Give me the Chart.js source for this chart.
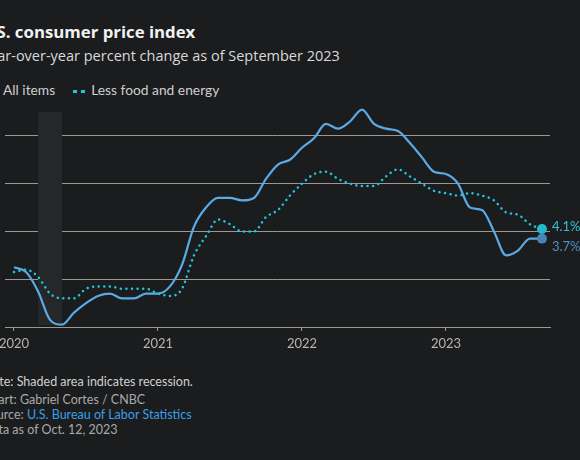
<!DOCTYPE html>
<html>
<head>
<meta charset="utf-8">
<script src="https://cdn.jsdelivr.net/npm/chart.js@4"></script>
<style>
  html, body { margin: 0; padding: 0; background: #1b1c1e; width: 580px; height: 460px; overflow: hidden; }
  body { position: relative; font-family: Lato, "Open Sans", sans-serif; }
  .t { position: absolute; white-space: nowrap; }
  #title { left: -21px; top: 23px; font-family: "Open Sans"; font-size: 16.8px; line-height: 17px; font-weight: bold; color: #f2f2f2; }
  #sub { left: -19px; top: 48px; font-family: "Open Sans"; font-size: 14.5px; line-height: 15px; color: #d9d9d9; }
  #legend { left: -17px; top: 83px; font-size: 13.8px; line-height: 13px; color: #cfcfcf; }
  #legend .sw { display: inline-block; width: 14px; height: 0; vertical-align: middle; margin-right: 6px; }
  #legend .solid { border-top: 2px solid #5aaae6; }
  #legend .dot { border-top: 3px dotted #1fc6dc; width: 12px; margin-left: 18px; }
  #foot { left: -17px; top: 374px; font-size: 12.5px; line-height: 15px; color: #a9a9a9; }
  #foot .note { color: #d0d0d0; margin-bottom: 3px; }
  #foot a { color: #3a9fe6; text-decoration: none; }
  #wrap { position: absolute; left: 0; top: 95px; width: 580px; height: 260px; }
</style>
</head>
<body>
<div class="t" id="title">U.S. consumer price index</div>
<div class="t" id="sub">Year-over-year percent change as of September 2023</div>
<div class="t" id="legend"><span class="sw solid"></span>All items<span class="sw dot"></span>Less food and energy</div>
<div class="t" id="foot">
  <div class="note">Note: Shaded area indicates recession.</div>
  <div>Chart: Gabriel Cortes / CNBC</div>
  <div>Source: <a>U.S. Bureau of Labor Statistics</a></div>
  <div>Data as of Oct. 12, 2023</div>
</div>
<div id="wrap"><canvas id="cpi"></canvas></div>
<script>
const months = [
  '2020-01','2020-02','2020-03','2020-04','2020-05','2020-06','2020-07','2020-08','2020-09','2020-10','2020-11','2020-12',
  '2021-01','2021-02','2021-03','2021-04','2021-05','2021-06','2021-07','2021-08','2021-09','2021-10','2021-11','2021-12',
  '2022-01','2022-02','2022-03','2022-04','2022-05','2022-06','2022-07','2022-08','2022-09','2022-10','2022-11','2022-12',
  '2023-01','2023-02','2023-03','2023-04','2023-05','2023-06','2023-07','2023-08','2023-09'
];
const allItems = [
  2.5, 2.3, 1.5, 0.3, 0.1, 0.6, 1.0, 1.3, 1.4, 1.2, 1.2, 1.4,
  1.4, 1.7, 2.6, 4.2, 5.0, 5.4, 5.4, 5.3, 5.4, 6.2, 6.8, 7.0,
  7.5, 7.9, 8.5, 8.3, 8.6, 9.1, 8.5, 8.3, 8.2, 7.7, 7.1, 6.5,
  6.4, 6.0, 5.0, 4.9, 4.0, 3.0, 3.2, 3.7, 3.7
];
const coreItems = [
  2.3, 2.4, 2.1, 1.4, 1.2, 1.2, 1.6, 1.7, 1.7, 1.6, 1.6, 1.6,
  1.4, 1.3, 1.6, 3.0, 3.8, 4.5, 4.3, 4.0, 4.0, 4.6, 4.9, 5.5,
  6.0, 6.4, 6.5, 6.2, 6.0, 5.9, 5.9, 6.3, 6.6, 6.3, 6.0, 5.7,
  5.6, 5.5, 5.6, 5.5, 5.3, 4.8, 4.7, 4.3, 4.1
];
const yTicks = [0, 2, 4, 6, 8];
const recession = ['2020-03', '2020-05'];

const last = months.length - 1;
const yearTicks = months.map((m, i) => m.endsWith('-01') ? i : null).filter(i => i !== null);
const pts = arr => arr.map((v, i) => ({ x: i, y: v }));

const extras = {
  id: 'extras',
  beforeDatasetsDraw(chart) {
    const { ctx, scales: { x, y } } = chart;
    const x1 = x.getPixelForValue(months.indexOf(recession[0]));
    const x2 = x.getPixelForValue(months.indexOf(recession[1]));
    const top = y.getPixelForValue(9), bot = y.getPixelForValue(0);
    ctx.save();
    ctx.fillStyle = '#262729';
    ctx.fillRect(x1, top, x2 - x1, bot - top - 2);
    ctx.restore();
  },
  afterDatasetsDraw(chart) {
    const { ctx, scales: { x, y } } = chart;
    ctx.save();
    ctx.font = '13px Lato';
    ctx.textBaseline = 'middle';
    const px = x.getPixelForValue(last) + 10;
    ctx.fillStyle = '#2ec4d6';
    ctx.fillText(coreItems[last].toFixed(1) + '%', px, y.getPixelForValue(coreItems[last]) - 2);
    ctx.fillStyle = '#4f8fcb';
    ctx.fillText(allItems[last].toFixed(1) + '%', px, y.getPixelForValue(allItems[last]) + 8);
    ctx.restore();
  }
};

const endOnly = r => c => c.dataIndex === last ? r : 0;

new Chart(document.getElementById('cpi'), {
  type: 'line',
  data: {
    datasets: [{
      label: 'All items',
      data: pts(allItems),
      borderColor: '#5aaae6',
      borderWidth: 2.2,
      cubicInterpolationMode: 'monotone',
      pointRadius: endOnly(5),
      pointBackgroundColor: '#4a83b6',
      pointBorderWidth: 0,
      order: 2
    }, {
      label: 'Less food and energy',
      data: pts(coreItems),
      borderColor: '#1fc6dc',
      borderWidth: 2.5,
      borderDash: [0.1, 5.5],
      borderCapStyle: 'round',
      cubicInterpolationMode: 'monotone',
      pointRadius: endOnly(5),
      pointBackgroundColor: '#22b9cf',
      pointBorderWidth: 0,
      order: 1
    }]
  },
  options: {
    responsive: true,
    maintainAspectRatio: false,
    animation: false,
    clip: false,
    layout: { padding: { top: 4, left: 5, right: 30, bottom: 0 } },
    plugins: { legend: { display: false }, tooltip: { enabled: false } },
    scales: {
      x: {
        type: 'linear',
        min: -0.75,
        max: last + 0.67,
        afterBuildTicks: s => { s.ticks = yearTicks.map(v => ({ value: v })); },
        afterFit: s => { s.height = 28; s.paddingLeft = 0; s.paddingRight = 0; },
        ticks: {
          color: '#b8b4ad',
          font: { family: 'Lato', size: 13 },
          padding: 5,
          maxRotation: 0,
          callback: v => months[v].slice(0, 4)
        },
        grid: { drawOnChartArea: false, color: '#9b9893', tickLength: 4 },
        border: { color: '#9b9893' }
      },
      y: {
        min: 0,
        max: 9.5,
        afterBuildTicks: s => { s.ticks = yTicks.map(v => ({ value: v })); },
        afterFit: s => { s.width = 0; s.paddingTop = 0; s.paddingBottom = 0; },
        ticks: { display: false },
        grid: { color: '#9b9893', drawTicks: false },
        border: { display: false }
      }
    }
  },
  plugins: [extras]
});
</script>
</body>
</html>
